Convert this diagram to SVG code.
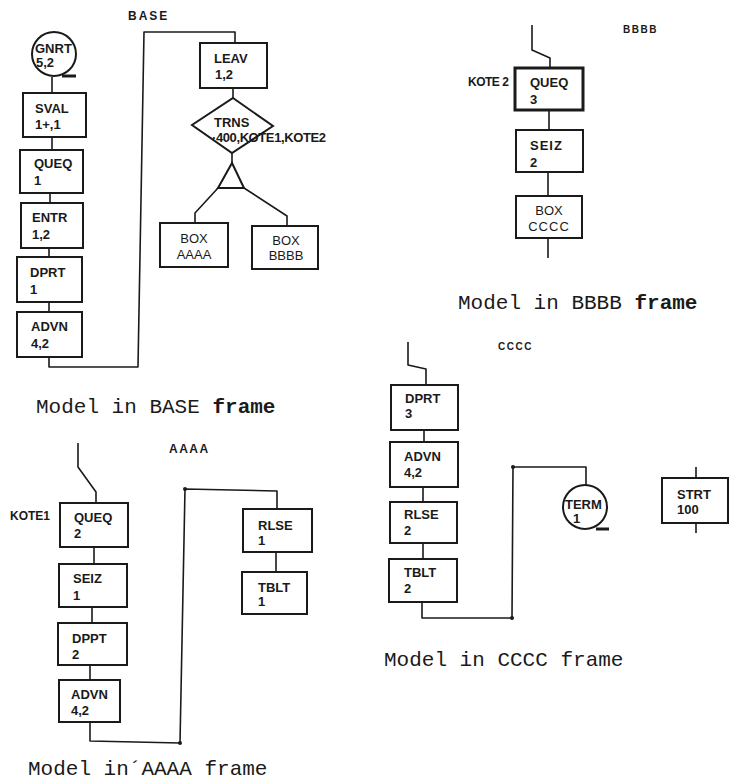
<svg xmlns="http://www.w3.org/2000/svg" width="730" height="783" viewBox="0 0 730 783">
<style>
.bx{fill:#fff;stroke:#1a1a1a;stroke-width:2}
.bt{stroke-width:3}
.ln{fill:none;stroke:#1a1a1a;stroke-width:1.6;stroke-linejoin:round}
.t{font-family:"Liberation Sans",Arial,sans-serif;font-size:13px;font-weight:bold;fill:#1a1a1a}
.tc{text-anchor:middle;font-weight:normal}
.lb{font-family:"Liberation Sans",Arial,sans-serif;font-weight:bold;fill:#1a1a1a}
.cap{font-family:"Liberation Mono","Courier New",monospace;font-size:21px;fill:#1a1a1a}
.dot{fill:#1a1a1a}
</style>
<rect width="730" height="783" fill="#fff"/>

<g id="connectors">
  <!-- BASE frame -->
  <path class="ln" d="M52 77 V93"/>
  <path class="ln" d="M52 137 V150"/>
  <path class="ln" d="M50 193 V203"/>
  <path class="ln" d="M49 248 V257"/>
  <path class="ln" d="M49 302 V312"/>
  <path class="ln" d="M49 357 V367 H138 L144 32 H235 V43"/>
  <path class="ln" d="M233 88 V98"/>
  <path class="ln" d="M232 153 V163"/>
  <path class="ln" d="M218 188 L195 213 V223"/>
  <path class="ln" d="M244 188 L287 216 V226"/>
  <!-- BBBB frame -->
  <path class="ln" d="M532 25 V50 L550 58 V68"/>
  <path class="ln" d="M549 110 V130"/>
  <path class="ln" d="M548 172 V196"/>
  <path class="ln" d="M548 238 V258"/>
  <!-- CCCC frame -->
  <path class="ln" d="M408 342 V365 L426 369 V385"/>
  <path class="ln" d="M424 430 V442"/>
  <path class="ln" d="M423 487 V502"/>
  <path class="ln" d="M423 543 V559"/>
  <path class="ln" d="M422 602 V618 H512 L513 467 H586 V485"/>
  <path class="ln" d="M696 467 V478"/>
  <path class="ln" d="M696 523 V533"/>
  <circle class="dot" cx="512" cy="618" r="2"/>
  <circle class="dot" cx="513" cy="467" r="2"/>
  <!-- AAAA frame -->
  <path class="ln" d="M78 443 V467 L96 492 V503"/>
  <path class="ln" d="M94 547 V564"/>
  <path class="ln" d="M92 607 V623"/>
  <path class="ln" d="M90 665 V680"/>
  <path class="ln" d="M90 722 V741 L180 743 L185 489 L277 491 V509"/>
  <path class="ln" d="M276 552 V572"/>
  <circle class="dot" cx="180" cy="743" r="2"/>
  <circle class="dot" cx="185" cy="489" r="2"/>
</g>

<!-- ===== BASE frame ===== -->
<text class="lb" x="128" y="20" font-size="12" letter-spacing="2">BASE</text>
<g id="gnrt">
  <circle cx="54" cy="54" r="22" fill="#fff" stroke="#1a1a1a" stroke-width="2"/>
  <path d="M62 76 H76" stroke="#1a1a1a" stroke-width="3"/>
  <text class="t" x="35" y="53" font-size="12">GNRT</text>
  <text class="t" x="36" y="67" font-size="12">5,2</text>
</g>
<g id="sval">
  <rect class="bx" x="23" y="93" width="63" height="44"/>
  <text class="t" x="35" y="113">SVAL</text>
  <text class="t" x="35" y="129">1+,1</text>
</g>
<g id="queq1">
  <rect class="bx" x="20" y="150" width="63" height="43"/>
  <text class="t" x="34" y="168">QUEQ</text>
  <text class="t" x="34" y="185">1</text>
</g>
<g id="entr">
  <rect class="bx" x="21" y="203" width="62" height="45"/>
  <text class="t" x="32" y="222">ENTR</text>
  <text class="t" x="32" y="239">1,2</text>
</g>
<g id="dprt1">
  <rect class="bx" x="17" y="257" width="65" height="45"/>
  <text class="t" x="30" y="277">DPRT</text>
  <text class="t" x="30" y="294">1</text>
</g>
<g id="advn1">
  <rect class="bx" x="17" y="312" width="65" height="45"/>
  <text class="t" x="31" y="331">ADVN</text>
  <text class="t" x="31" y="348">4,2</text>
</g>
<g id="leav">
  <rect class="bx" x="200" y="43" width="67" height="45"/>
  <text class="t" x="214" y="63">LEAV</text>
  <text class="t" x="215" y="79">1,2</text>
</g>
<g id="trns">
  <path d="M233 98 L273 126 L232 153 L192 125 Z" fill="#fff" stroke="#1a1a1a" stroke-width="2"/>
  <text class="t" x="214" y="127" font-size="12">TRNS</text>
  <text class="t" x="212" y="142" font-size="12" letter-spacing="-0.4">·400,KOTE1,KOTE2</text>
</g>
<g id="split">
  <path d="M232 163 L244 188 L218 188 Z" fill="#fff" stroke="#1a1a1a" stroke-width="2"/>
</g>
<g id="boxaaaa">
  <rect class="bx" x="160" y="223" width="68" height="44"/>
  <text class="t tc" x="194" y="243">BOX</text>
  <text class="t tc" x="194" y="259">AAAA</text>
</g>
<g id="boxbbbb">
  <rect class="bx" x="252" y="226" width="66" height="43"/>
  <text class="t tc" x="286" y="245">BOX</text>
  <text class="t tc" x="286" y="260">BBBB</text>
</g>
<text class="cap" x="36" y="413">Model in BASE <tspan font-weight="bold">frame</tspan></text>

<!-- ===== BBBB frame ===== -->
<text class="lb" x="623" y="33" font-size="10" letter-spacing="1.5">BBBB</text>
<text class="lb" x="468" y="86" font-size="12" letter-spacing="-0.5">KOTE 2</text>
<g id="queq3">
  <rect class="bx bt" x="515" y="68" width="68" height="42"/>
  <text class="t" x="530" y="87">QUEQ</text>
  <text class="t" x="530" y="104">3</text>
</g>
<g id="seiz2">
  <rect class="bx" x="516" y="130" width="67" height="42"/>
  <text class="t" x="530" y="150" letter-spacing="1">SEIZ</text>
  <text class="t" x="530" y="167">2</text>
</g>
<g id="boxcccc">
  <rect class="bx" x="516" y="196" width="66" height="42"/>
  <text class="t tc" x="549" y="215">BOX</text>
  <text class="t tc" x="549" y="231" letter-spacing="1">CCCC</text>
</g>
<text class="cap" x="458" y="309">Model in BBBB <tspan font-weight="bold">frame</tspan></text>

<!-- ===== CCCC frame ===== -->
<text class="lb" x="498" y="350" font-size="10" font-weight="normal" letter-spacing="1.5">CCCC</text>
<g id="dprt3">
  <rect class="bx" x="391" y="385" width="67" height="45"/>
  <text class="t" x="405" y="403">DPRT</text>
  <text class="t" x="405" y="418">3</text>
</g>
<g id="advn3">
  <rect class="bx" x="390" y="442" width="68" height="45"/>
  <text class="t" x="404" y="461">ADVN</text>
  <text class="t" x="404" y="477">4,2</text>
</g>
<g id="rlse2">
  <rect class="bx" x="390" y="502" width="67" height="41"/>
  <text class="t" x="404" y="519">RLSE</text>
  <text class="t" x="404" y="535">2</text>
</g>
<g id="tblt2">
  <rect class="bx" x="389" y="559" width="68" height="43"/>
  <text class="t" x="404" y="577">TBLT</text>
  <text class="t" x="404" y="593">2</text>
</g>
<g id="term">
  <circle cx="585" cy="507" r="22" fill="#fff" stroke="#1a1a1a" stroke-width="2"/>
  <path d="M596 529 H609" stroke="#1a1a1a" stroke-width="3"/>
  <text class="t" x="565" y="509" font-size="11" font-weight="normal">TERM</text>
  <text class="t" x="573" y="523" font-size="11">1</text>
</g>
<g id="strt">
  <rect class="bx" x="662" y="478" width="66" height="45"/>
  <text class="t" x="677" y="499">STRT</text>
  <text class="t" x="677" y="514">100</text>
</g>
<text class="cap" x="384" y="666">Model in CCCC frame</text>

<!-- ===== AAAA frame ===== -->
<text class="lb" x="169" y="453" font-size="12" letter-spacing="1.5">AAAA</text>
<text class="lb" x="10" y="520" font-size="12">KOTE1</text>
<g id="queq2">
  <rect class="bx" x="60" y="503" width="68" height="44"/>
  <text class="t" x="74" y="522">QUEQ</text>
  <text class="t" x="74" y="538">2</text>
</g>
<g id="seiz1">
  <rect class="bx" x="59" y="564" width="68" height="43"/>
  <text class="t" x="73" y="583">SEIZ</text>
  <text class="t" x="73" y="600">1</text>
</g>
<g id="dppt">
  <rect class="bx" x="58" y="623" width="69" height="42"/>
  <text class="t" x="72" y="643">DPPT</text>
  <text class="t" x="72" y="659">2</text>
</g>
<g id="advn2">
  <rect class="bx" x="59" y="680" width="61" height="42"/>
  <text class="t" x="71" y="699">ADVN</text>
  <text class="t" x="71" y="715">4,2</text>
</g>
<g id="rlse1">
  <rect class="bx" x="243" y="509" width="69" height="43"/>
  <text class="t" x="258" y="530">RLSE</text>
  <text class="t" x="258" y="545">1</text>
</g>
<g id="tblt1">
  <rect class="bx" x="242" y="572" width="65" height="42"/>
  <text class="t" x="258" y="592">TBLT</text>
  <text class="t" x="258" y="606">1</text>
</g>
<text class="cap" x="28" y="775">Model in´AAAA frame</text>
</svg>
